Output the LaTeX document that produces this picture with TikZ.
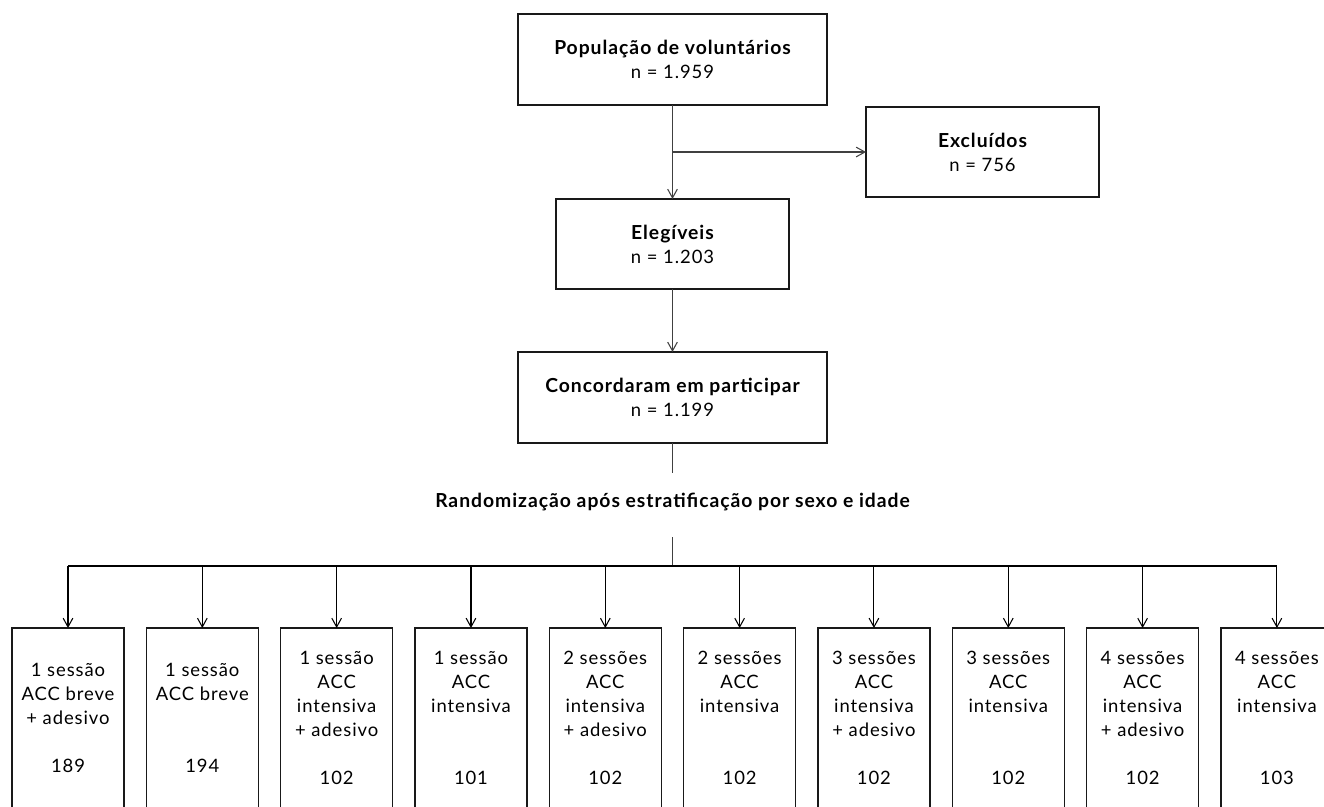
\documentclass[tikz,border=0pt]{standalone}
\usepackage{fontspec}
\setmainfont{Lato}[LetterSpace=5]
\usetikzlibrary{positioning, arrows.meta}
\newcommand{\hd}[1]{{\bfseries\fontsize{11}{14}\selectfont #1}}

\begin{document}
\begin{tikzpicture}[x=0.02cm, y=-0.02cm,
    font=\fontsize{10.5}{13.6}\selectfont,
    box/.style={draw=black!90, line width=0.8pt, minimum width=6.18cm, minimum height=1.82cm,
      inner sep=0pt, outer sep=0pt, align=center},
    small/.style={box, minimum width=4.66cm, minimum height=1.80cm},
    arm/.style={box, minimum width=2.24cm, minimum height=3.6cm},
    link/.style={-{Straight Barb[length=5pt, width=5.5pt]}, draw=black!75, line width=0.6pt},
    node distance=1.88cm and 0.447cm]
  \useasboundingbox (0,0) rectangle (1324,806);

  % main column
  \node[box] (pop) at (672.5,59.5) {\hd{População de voluntários}\\n = 1.959};
  \node[small, below=of pop] (eleg) {\hd{Elegíveis}\\n = 1.203};
  \node[small] (excl) at (982.5,152) {\hd{Excluídos}\\n = 756};
  \node[box, below=1.26cm of eleg] (conc) {\hd{Concordaram em participar}\\n = 1.199};
  \node (rand) at (672.5,502) {\hd{Randomização após estratificação por sexo e idade}};

  % arms
  \node[arm] (a1) at (68,718) {1 sessão\\ACC breve\\+ adesivo\\[13.6pt]189};
  \node[arm, right=of a1] (a2) {1 sessão\\ACC breve\\[27.2pt]194};
  \node[arm, right=of a2] (a3) {1 sessão\\ACC\\intensiva\\+ adesivo\\[13.6pt]102};
  \node[arm, right=of a3] (a4) {1 sessão\\ACC\\intensiva\\[27.2pt]101};
  \node[arm, right=of a4] (a5) {2 sessões\\ACC\\intensiva\\+ adesivo\\[13.6pt]102};
  \node[arm, right=of a5] (a6) {2 sessões\\ACC\\intensiva\\[27.2pt]102};
  \node[arm, right=of a6] (a7) {3 sessões\\ACC\\intensiva\\+ adesivo\\[13.6pt]102};
  \node[arm, right=of a7] (a8) {3 sessões\\ACC\\intensiva\\[27.2pt]102};
  \node[arm, right=of a8] (a9) {4 sessões\\ACC\\intensiva\\+ adesivo\\[13.6pt]102};
  \node[arm, right=of a9] (a10) {4 sessões\\ACC\\intensiva\\[27.2pt]103};

  \coordinate (split) at (pop.south |- excl.west);
  \coordinate (r1) at (672.5,473);
  \coordinate (r2) at (672.5,537);
  \coordinate (bus) at (672.5,566);

  \draw[link] (pop) -- (eleg);
  \draw[link] (split) -- (excl);
  \draw[link] (eleg) -- (conc);
  \draw[link, -] (conc) -- (r1);
  \draw[link, -] (r2) -- (bus);
  \draw[line width=0.6pt] (a1 |- bus) -- (a10 |- bus);

  \draw[link, draw=black] (a1 |- bus) -- (a1);
  \draw[link, draw=black] (a2 |- bus) -- (a2);
  \draw[link, draw=black] (a3 |- bus) -- (a3);
  \draw[link, draw=black] (a4 |- bus) -- (a4);
  \draw[link, draw=black] (a5 |- bus) -- (a5);
  \draw[link, draw=black] (a6 |- bus) -- (a6);
  \draw[link, draw=black] (a7 |- bus) -- (a7);
  \draw[link, draw=black] (a8 |- bus) -- (a8);
  \draw[link, draw=black] (a9 |- bus) -- (a9);
  \draw[link, draw=black] (a10 |- bus) -- (a10);
\end{tikzpicture}
\end{document}
